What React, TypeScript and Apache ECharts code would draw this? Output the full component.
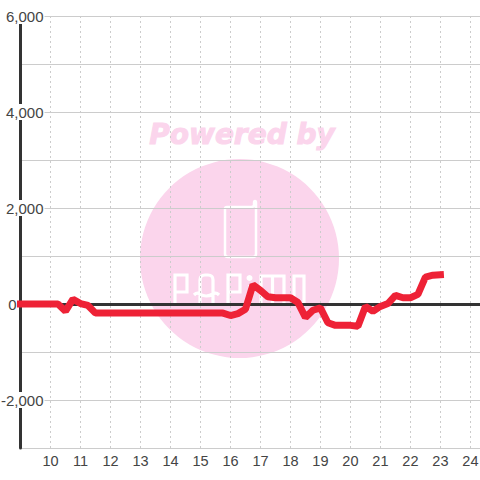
import React, { useEffect, useRef } from "react";
import * as echarts from "echarts";

const hours = [
  9, 9.25, 9.5, 9.75, 10, 10.25, 10.5, 10.75, 11, 11.25, 11.5, 11.75, 12, 12.25, 12.5, 12.75,
  13, 13.25, 13.5, 13.75, 14, 14.25, 14.5, 14.75, 15, 15.25, 15.5, 15.75, 16, 16.25, 16.5, 16.75,
  17, 17.25, 17.5, 17.75, 18, 18.25, 18.5, 18.75, 19, 19.25, 19.5, 19.75, 20, 20.25, 20.5, 20.75,
  21, 21.25, 21.5, 21.75, 22, 22.25, 22.5, 22.75, 23,
];
const values = [
  0, 0, 0, 0, 0, 0, -150, 100, 10, -30, -190, -190, -190, -190, -190, -190,
  -190, -190, -190, -190, -190, -190, -190, -190, -190, -190, -190, -190, -240, -200, -110, 400,
  285, 150, 130, 130, 130, 30, -280, -130, -80, -390, -445, -445, -445, -465, -50, -150,
  -50, 10, 180, 130, 130, 200, 560, 600, 610,
];
const xMin = 9;
const xMax = 24.32;
const yMin = -3000;
const yMax = 6000;

const PHONE_D =
  "M227 207 H251 Q254 207 254 205 V203 Q254 201 255 201 Q256 201 256 203 V254 Q256 257 253 257 H228 Q225 257 225 254 V209 Q225 207 227 207";
const LETTERS_D =
  "M175 305 V275 H187 V292 H175 " +
  "M200 305 V280 Q200 275 205 275 H208 Q213 275 213 280 V305 M194 295 Q197 292 200 294 Q206 298 213 294 Q216 292 219 295 " +
  "M228 305 V275 H240 V292 H228 " +
  "M250 285 V305 " +
  "M261 305 V276 H284 V305 M272.500 276 V305 " +
  "M294 305 V276 H304 V305";
echarts.graphic.registerShape("papimoPhone", echarts.graphic.extendPath(PHONE_D as any, {}) as any);
echarts.graphic.registerShape("papimoLetters", echarts.graphic.extendPath(LETTERS_D as any, {}) as any);

const fmtY = (v: number) => {
  if (v === 0) return "{z|0}";
  if (Math.abs(v) % 2000 !== 0) return "";
  return "{b|" + v.toLocaleString("en-US") + "}";
};

export default function App() {
  const ref = useRef<HTMLDivElement>(null);
  useEffect(() => {
    const chart = echarts.init(ref.current!, undefined, { renderer: "svg" });
    chart.setOption({
      animation: false,
      textStyle: { fontFamily: "Liberation Sans" },
      grid: { left: 20.5, right: 0, top: 16, bottom: 32, outerBoundsMode: "none" },
      graphic: [
        { type: "circle", z: -10, silent: true, shape: { cx: 239.5, cy: 258.500, r: 99.500 }, style: { fill: "#fbd5ec" } },
        {
          type: "text", z: -10, silent: true, x: 242, y: 134,
          style: {
            text: "Powered by", fill: "#fbd5ec", stroke: "#fbd5ec", lineWidth: 1, font: "italic bold 28px 'DejaVu Sans'",
            textAlign: "center", textVerticalAlign: "middle",
          },
        },
        { type: "papimoPhone", z: -9, silent: true, x: 0, y: 0, style: { fill: "none", stroke: "#ffffff", lineWidth: 2.5 } },
        { type: "papimoLetters", z: -9, silent: true, x: 0, y: 0, style: { fill: "none", stroke: "#ffffff", lineWidth: 3.2 } },
        { type: "circle", z: -9, silent: true, shape: { cx: 249.5, cy: 278, r: 3 }, style: { fill: "#ffffff" } },
      ],
      xAxis: {
        type: "value", min: xMin, max: xMax, interval: 1,
        axisLine: { show: false }, axisTick: { show: false },
        axisLabel: {
          color: "#444", fontSize: 14.500, margin: 5, showMaxLabel: false, showMinLabel: false,
          formatter: (v: number) => (Number.isInteger(v) ? String(v) : ""),
        },
        splitLine: { show: true, lineStyle: { color: "#ccc", width: 1, type: [2, 3] } },
      },
      yAxis: {
        type: "value", min: yMin, max: yMax, interval: 1000,
        axisLine: { show: true, onZero: false, lineStyle: { color: "#333", width: 3 } },
        axisTick: { show: false },
        axisLabel: {
          color: "#444", fontSize: 15, margin: -24, align: "right", showMinLabel: true, showMaxLabel: true,
          formatter: fmtY,
          rich: {
            b: { color: "#444", fontSize: 15, fontFamily: "Liberation Sans", lineHeight: 13, backgroundColor: "#fff", padding: [1, 1, 0, 1] },
            z: { color: "#444", fontSize: 15, fontFamily: "Liberation Sans", padding: [0, 28, 0, 0] },
          },
        },
        splitLine: { show: true, lineStyle: { color: "#ccc", width: 1 } },
      },
      series: [
        {
          type: "line", z: 3, symbol: "none", silent: true,
          data: hours.map((h, i) => [h, values[i]]),
          lineStyle: { color: "#ee2236", width: 7, cap: "square", join: "bevel" },
          markLine: {
            silent: true, symbol: "none", z: 1, animation: false, label: { show: false },
            lineStyle: { color: "#333", width: 3, type: "solid" },
            data: [{ yAxis: 0 }],
          },
        },
      ],
    });
    return () => chart.dispose();
  }, []);
  return <div ref={ref} style={{ position: "fixed", left: 0, top: 0, width: 480, height: 480, background: "#fff" }} />;
}
